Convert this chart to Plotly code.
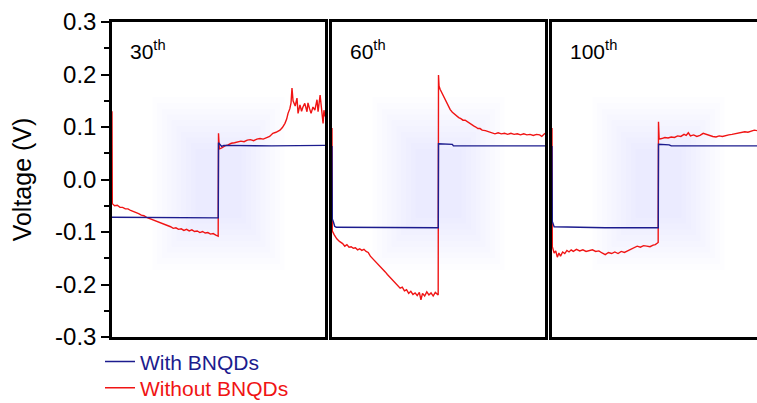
import plotly.graph_objects as go

# ---------------- data ----------------
panel_labels = ["30<sup>th</sup>", "60<sup>th</sup>", "100<sup>th</sup>"]
series_names = ["With BNQDs", "Without BNQDs"]

# Panel 1 (30th cycle)
t_red_30 = [0, 0.3, 2.5, 5, 7.5, 10, 12.5, 15, 17.5, 20, 22.5, 25, 27.5, 30, 32.5, 35, 37.5, 40, 42.5, 45,
            47.5, 50, 52.5, 55, 57.5, 60, 62.5, 65, 67.5, 70, 72.5, 75, 77.5, 80, 82.5, 85, 87.5, 90, 92.5,
            95, 97.5, 99.7, 100, 100.8, 103, 106, 109, 112, 115, 118, 121, 124, 127, 130, 133, 136, 139,
            142, 145, 148, 151, 154, 157.7, 160, 162.4, 164, 165.3, 167, 168.1, 169, 170, 170.9, 172,
            173.7, 174.7, 176.5, 178, 179.3, 181, 183.1, 184, 185.5, 186.9, 188.7, 190.5, 192.5, 193.5,
            195.4, 197.2, 198.2, 199, 200]
v_red_30 = [0.13, -0.046, -0.050, -0.049, -0.053, -0.053, -0.056, -0.056, -0.059, -0.061, -0.062, -0.065,
            -0.068, -0.069, -0.072, -0.074, -0.075, -0.078, -0.080, -0.081, -0.084, -0.086, -0.087, -0.090,
            -0.093, -0.092, -0.095, -0.094, -0.097, -0.095, -0.098, -0.096, -0.099, -0.098, -0.101, -0.099,
            -0.102, -0.101, -0.104, -0.103, -0.106, -0.108, 0.088, 0.058, 0.060, 0.064, 0.066, 0.069, 0.070,
            0.072, 0.073, 0.072, 0.075, 0.076, 0.074, 0.077, 0.078, 0.077, 0.080, 0.082, 0.088, 0.090, 0.094,
            0.099, 0.107, 0.115, 0.126, 0.135, 0.146, 0.174, 0.150, 0.146, 0.140, 0.155, 0.126, 0.142, 0.130,
            0.138, 0.145, 0.129, 0.146, 0.135, 0.126, 0.138, 0.132, 0.152, 0.129, 0.161, 0.126, 0.107, 0.132,
            0.120]
t_blue_30 = [0, 50, 99.8, 100, 101.5, 103, 105, 150, 200]
v_blue_30 = [-0.072, -0.073, -0.073, 0.070, 0.066, 0.063, 0.065, 0.064, 0.065]

# Panel 2 (60th cycle)
t_red_60 = [0, 0.3, 2, 4.5, 7, 10, 12, 14, 16, 18, 20, 22, 24, 26, 28, 30, 32, 34, 36, 38, 40, 42, 44, 46,
            48, 50, 52, 54, 56, 58, 60, 62, 64, 66, 68, 70, 72, 74, 76, 78, 80, 82, 83.5, 85, 87, 89, 91,
            93, 95, 97, 99.7, 100, 100.5, 101.5, 103, 105, 107, 109, 111, 113, 115, 117, 119, 121, 123,
            125, 127, 129, 131, 133, 135, 137, 139, 141, 144, 147, 150, 153, 156, 159, 162, 165, 168, 171,
            174, 177, 180, 183, 186, 189, 192, 195, 197, 199, 200]
v_red_60 = [0.098, -0.098, -0.105, -0.113, -0.118, -0.122, -0.127, -0.124, -0.129, -0.128, -0.131, -0.130,
            -0.134, -0.132, -0.135, -0.133, -0.137, -0.139, -0.146, -0.150, -0.155, -0.158, -0.163, -0.166,
            -0.171, -0.176, -0.181, -0.185, -0.190, -0.193, -0.198, -0.202, -0.207, -0.205, -0.212, -0.210,
            -0.217, -0.213, -0.219, -0.216, -0.221, -0.215, -0.229, -0.217, -0.222, -0.214, -0.220, -0.216,
            -0.222, -0.215, -0.220, 0.199, 0.178, 0.172, 0.166, 0.158, 0.148, 0.140, 0.133, 0.128, 0.124,
            0.121, 0.118, 0.116, 0.113, 0.113, 0.110, 0.108, 0.104, 0.102, 0.100, 0.097, 0.097, 0.094, 0.093,
            0.091, 0.089, 0.087, 0.089, 0.087, 0.088, 0.086, 0.088, 0.086, 0.087, 0.085, 0.087, 0.085, 0.086,
            0.084, 0.086, 0.085, 0.082, 0.087, 0.088]
t_blue_60 = [0, 0.3, 1.5, 2.5, 4, 50, 99.8, 100, 113, 114, 200]
v_blue_60 = [0.064, -0.075, -0.082, -0.089, -0.091, -0.092, -0.092, 0.068, 0.067, 0.064, 0.064]

# Panel 3 (100th cycle)
t_red_100 = [0, 0.3, 2, 3.5, 5, 6.5, 8, 10, 12, 14, 16, 18, 20, 23, 26, 29, 32, 35, 38, 41, 44, 47, 50, 53,
             56, 59, 62, 65, 68, 71, 74, 77, 80, 83, 86, 89, 92, 95, 97, 99.7, 100, 100.6, 103, 106, 109,
             112, 115, 118, 121, 124, 126, 128, 130, 133, 136, 139, 142, 145, 148, 151, 154, 157, 160, 163,
             166, 169, 172, 175, 178, 181, 184, 187, 190, 192.5]
v_red_100 = [0.098, -0.128, -0.140, -0.136, -0.148, -0.140, -0.146, -0.138, -0.141, -0.135, -0.138, -0.134,
             -0.137, -0.133, -0.136, -0.134, -0.137, -0.135, -0.134, -0.137, -0.136, -0.140, -0.143, -0.139,
             -0.141, -0.138, -0.141, -0.137, -0.139, -0.136, -0.133, -0.131, -0.127, -0.129, -0.126, -0.127,
             -0.128, -0.125, -0.124, -0.120, 0.110, 0.077, 0.078, 0.080, 0.079, 0.081, 0.080, 0.083, 0.082,
             0.086, 0.084, 0.089, 0.083, 0.085, 0.082, 0.084, 0.088, 0.086, 0.083, 0.082, 0.081, 0.083, 0.082,
             0.084, 0.085, 0.086, 0.087, 0.088, 0.089, 0.091, 0.090, 0.092, 0.094, 0.093]
t_blue_100 = [0, 0.3, 2, 50, 99.8, 100, 110, 112, 192.5]
v_blue_100 = [0.064, -0.080, -0.090, -0.092, -0.092, 0.067, 0.066, 0.064, 0.064]

y_tick_vals = [-0.3, -0.2, -0.1, 0.0, 0.1, 0.2, 0.3]
y_tick_text = ["-0.3", "-0.2", "-0.1", "0.0", "0.1", "0.2", "0.3"]
y_minor_vals = [-0.25, -0.15, -0.05, 0.05, 0.15, 0.25]

# ---------------- styling ----------------
BLUE = "#1c1c8e"
RED = "#f01414"
FONT = "Liberation Sans, Arial, sans-serif"

W, H = 757, 403
ml, mr, mt, mb = 112, 0, 22, 66
pw = W - ml - mr
domains = [[0, 213 / pw], [220 / pw, 433 / pw], [440 / pw, 1.0]]
xranges = [[0, 200], [0, 200], [0, 192.5]]

fig = go.Figure()

panels = [
    (t_red_30, v_red_30, t_blue_30, v_blue_30),
    (t_red_60, v_red_60, t_blue_60, v_blue_60),
    (t_red_100, v_red_100, t_blue_100, v_blue_100),
]

for i, (tr, vr, tb, vb) in enumerate(panels):
    xa = "x" if i == 0 else f"x{i+1}"
    ya = "y" if i == 0 else f"y{i+1}"
    fig.add_trace(go.Scatter(x=tr, y=vr, mode="lines", line=dict(color=RED, width=1.4),
                             name=series_names[1], legend="legend2", showlegend=(i == 0),
                             xaxis=xa, yaxis=ya, hoverinfo="skip"))
    fig.add_trace(go.Scatter(x=tb, y=vb, mode="lines", line=dict(color=BLUE, width=1.4),
                             name=series_names[0], legend="legend", showlegend=(i == 0),
                             xaxis=xa, yaxis=ya, hoverinfo="skip"))
    # soft bluish glow behind the step
    for k in range(10):
        hx = 62 - 4.5 * k
        fig.add_shape(type="rect", xref=xa, yref=ya, layer="below",
                      x0=100 - hx, x1=100 + hx, y0=-0.172 + 0.011 * k, y1=0.157 - 0.011 * k,
                      fillcolor="rgba(120,125,255,0.012)", line=dict(width=0))
    fig.add_annotation(text=panel_labels[i], xref=f"{xa} domain", yref=f"{ya} domain",
                       x=0.075 if i < 2 else 0.08, y=0.91, xanchor="left", yanchor="middle",
                       showarrow=False, font=dict(family=FONT, size=21, color="black"))

layout = dict(
    width=W, height=H,
    margin=dict(l=ml, r=mr, t=mt, b=mb, autoexpand=False),
    paper_bgcolor="white", plot_bgcolor="white",
    font=dict(family=FONT, color="black"),
    legend=dict(x=-0.0186, y=-0.079, xanchor="left", yanchor="middle",
                font=dict(family=FONT, size=21, color=BLUE), bgcolor="rgba(0,0,0,0)",
                tracegroupgap=0, itemwidth=30),
    legend2=dict(x=-0.0186, y=-0.162, xanchor="left", yanchor="middle",
                 font=dict(family=FONT, size=21, color=RED), bgcolor="rgba(0,0,0,0)",
                 tracegroupgap=0, itemwidth=30),
)

for i in range(3):
    xk = "xaxis" if i == 0 else f"xaxis{i+1}"
    yk = "yaxis" if i == 0 else f"yaxis{i+1}"
    ya_anchor = "x" if i == 0 else f"x{i+1}"
    xa_anchor = "y" if i == 0 else f"y{i+1}"
    layout[xk] = dict(domain=domains[i], range=xranges[i], anchor=xa_anchor,
                      showline=True, mirror=True, linecolor="black", linewidth=2.5,
                      showticklabels=False, ticks="", showgrid=False, zeroline=False)
    ydict = dict(range=[-0.3, 0.3], anchor=ya_anchor, domain=[0, 1],
                 showline=True, mirror=(i < 2), linecolor="black", linewidth=2.5,
                 showgrid=False, zeroline=False)
    if i == 0:
        ydict.update(tickvals=y_tick_vals, ticktext=y_tick_text, ticks="outside", ticklen=8,
                     tickwidth=2, tickcolor="black",
                     tickfont=dict(family=FONT, size=24, color="black"),
                     minor=dict(tickvals=y_minor_vals, ticks="outside", ticklen=5, tickwidth=2,
                                tickcolor="black"),
                     title=dict(text="Voltage (V)", font=dict(family=FONT, size=25, color="black"),
                                standoff=17))
    else:
        ydict.update(showticklabels=False, ticks="", matches="y")
    layout[yk] = ydict

fig.update_layout(**layout)
fig.write_html("out.html", config={"displayModeBar": False},
               post_script="document.body.style.margin='0';document.body.style.overflow='hidden';")
